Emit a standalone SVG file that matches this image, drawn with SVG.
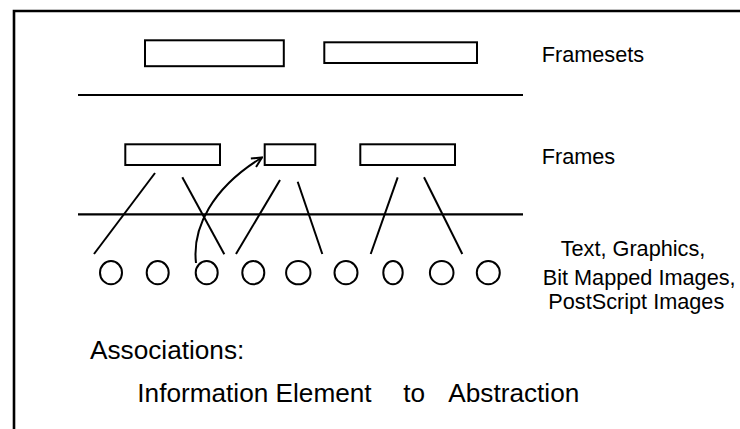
<svg xmlns="http://www.w3.org/2000/svg" width="740" height="429" viewBox="0 0 740 429">
  <style>
    .box { fill: #fff; stroke: #000; stroke-width: 2; }
    .elem { fill: #fff; stroke: #000; stroke-width: 2; }
    .rule { stroke: #000; stroke-width: 2.2; fill: none; }
    .link { stroke: #000; stroke-width: 2; fill: none; stroke-linecap: butt; }
    .lbl { font-family: "Liberation Sans", Arial, Helvetica, sans-serif; fill: #000; }
  </style>
  <defs>
    <marker id="openHead" viewBox="0 0 12 12" refX="11" refY="6" markerWidth="12" markerHeight="12" markerUnits="userSpaceOnUse" orient="auto">
      <path d="M1,1 L11,6 L1,11" fill="none" stroke="#000" stroke-width="2"/>
    </marker>
  </defs>

  <rect width="740" height="429" fill="#fff"/>

  <!-- outer frame: only left and top edges are visible -->
  <path d="M14,429 V11 H740" fill="none" stroke="#000" stroke-width="2.6"/>

  <!-- layer separators -->
  <g id="separators">
    <line class="rule" x1="78" y1="95" x2="523" y2="95"/>
    <line class="rule" x1="78" y1="214.3" x2="523" y2="214.3"/>
  </g>

  <!-- framesets -->
  <g id="frameset-1"><rect class="box" x="145" y="40.3" width="138.8" height="25.9"/></g>
  <g id="frameset-2"><rect class="box" x="324.3" y="42.3" width="152.7" height="20.7"/></g>

  <!-- frames -->
  <g id="frame-1"><rect class="box" x="125.3" y="144.3" width="94.7" height="20.7"/></g>
  <g id="frame-2"><rect class="box" x="264.7" y="144.3" width="50.6" height="20.7"/></g>
  <g id="frame-3"><rect class="box" x="360.3" y="144.3" width="94.7" height="20.7"/></g>

  <!-- information elements -->
  <g id="element-1"><ellipse class="elem" cx="111" cy="272.7" rx="11" ry="11.6"/></g>
  <g id="element-2"><ellipse class="elem" cx="157.7" cy="272.7" rx="11" ry="11.6"/></g>
  <g id="element-3"><ellipse class="elem" cx="206.7" cy="272.7" rx="11" ry="11.6"/></g>
  <g id="element-4"><ellipse class="elem" cx="253.3" cy="272.7" rx="11" ry="11.6"/></g>
  <g id="element-5"><ellipse class="elem" cx="298.3" cy="272.7" rx="12.2" ry="11.6"/></g>
  <g id="element-6"><ellipse class="elem" cx="346" cy="272.7" rx="11.5" ry="11.6"/></g>
  <g id="element-7"><ellipse class="elem" cx="393" cy="272.7" rx="9.7" ry="11.6"/></g>
  <g id="element-8"><ellipse class="elem" cx="441.7" cy="272.7" rx="11.8" ry="11.6"/></g>
  <g id="element-9"><ellipse class="elem" cx="488.3" cy="272.7" rx="11.5" ry="11.6"/></g>

  <!-- associations between frames and elements -->
  <g id="connectors">
    <line class="link" x1="155" y1="173" x2="94" y2="254"/>
    <line class="link" x1="182.3" y1="177.3" x2="224.3" y2="254.3"/>
    <line class="link" x1="280" y1="180" x2="236" y2="254"/>
    <line class="link" x1="297.7" y1="181.7" x2="322.3" y2="254"/>
    <line class="link" x1="397.7" y1="177.3" x2="370.7" y2="254"/>
    <line class="link" x1="424" y1="177.3" x2="462.3" y2="254"/>
    <path class="link" d="M196,263 C192,228 212,188 262,157.5" marker-end="url(#openHead)"/>
  </g>

  <!-- labels -->
  <g id="labels">
    <text class="lbl" x="541.7" y="61.7" font-size="21.7">Framesets</text>
    <text class="lbl" x="541.7" y="164" font-size="21.7">Frames</text>
    <text class="lbl" x="560.7" y="256" font-size="21.7">Text, Graphics,</text>
    <text class="lbl" x="542.7" y="285" font-size="21.7">Bit Mapped Images,</text>
    <text class="lbl" x="548.3" y="309.3" font-size="21.7">PostScript Images</text>
    <text class="lbl" x="90" y="359.3" font-size="26.2">Associations:</text>
    <text class="lbl" x="137.3" y="401.7" font-size="26.2">Information Element</text>
    <text class="lbl" x="403.3" y="401.7" font-size="26.2">to</text>
    <text class="lbl" x="448.3" y="401.7" font-size="26.2">Abstraction</text>
  </g>
</svg>
